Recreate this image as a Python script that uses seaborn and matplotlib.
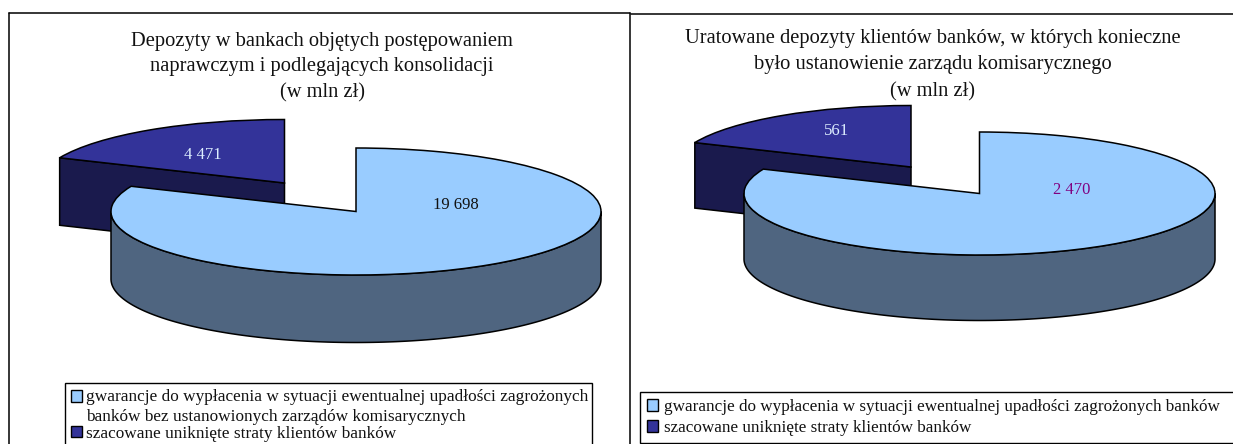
import numpy as np
import matplotlib
matplotlib.use("Agg")
import matplotlib.pyplot as plt
from matplotlib.lines import Line2D
from matplotlib.patches import Patch
import seaborn as sns

# ---- data ----
categories_left = ["gwarancje do wypłacenia w sytuacji ewentualnej upadłości zagrożonych\nbanków bez ustanowionych zarządów komisarycznych",
                   "szacowane uniknięte straty klientów banków"]
categories_right = ["gwarancje do wypłacenia w sytuacji ewentualnej upadłości zagrożonych banków",
                    "szacowane uniknięte straty klientów banków"]
values_left = [19698, 4471]
values_right = [2470, 561]
labels_left = ["19 698", "4 471"]
labels_right = ["2 470", "561"]
title_left = "Depozyty w bankach objętych postępowaniem\nnaprawczym i podlegających konsolidacji\n(w mln zł)"
title_right = "Uratowane depozyty klientów banków, w których konieczne\nbyło ustanowienie zarządu komisarycznego\n(w mln zł)"

sns.set_theme(style="white")
plt.rcParams["font.family"] = ["Liberation Serif", "DejaVu Serif"]

W, H = 1233, 444
TOP = sns.color_palette(["#99CCFF", "#333399"])
SIDE = sns.color_palette(["#4F6580", "#1A1A4D"])
fig = plt.figure(figsize=(W / 100, H / 100), dpi=100, facecolor="white")


def fx(x):
    return x / W


def fy(y):
    return 1 - y / H


def panel(values, cx, cy, rx, ry, thick, dark_c):
    ax = fig.add_axes([0, 0, 1, 1], facecolor="none")
    t = thick / ry
    dc = ((dark_c[0] - cx) / rx, (cy - dark_c[1]) / ry)
    share = values[1] / sum(values)
    end = np.deg2rad(90 + 360 * share)
    ex, ey = np.cos(end), np.sin(end)
    # cut face of the pulled-out slice
    ax.fill([dc[0], dc[0] + ex, dc[0] + ex, dc[0]],
            [dc[1], dc[1] + ey, dc[1] + ey - t, dc[1] - t],
            facecolor=SIDE[1], edgecolor="black", lw=1.1, zorder=1)
    w, _ = ax.pie(values, colors=TOP, startangle=90, counterclock=False, center=dc, radius=1,
                  wedgeprops=dict(edgecolor="black", linewidth=1.1, clip_on=False))
    w[0].set_visible(False)
    w[1].set_zorder(2)
    # rim of the large slice
    th = np.linspace(np.pi, 2 * np.pi, 200)
    xs, ys = np.cos(th), np.sin(th)
    ax.fill(np.r_[xs, xs[::-1]], np.r_[ys, ys[::-1] - t],
            facecolor=SIDE[0], edgecolor="black", lw=1.1, zorder=3)
    w, _ = ax.pie(values, colors=TOP, startangle=90, counterclock=False, center=(0, 0), radius=1,
                  wedgeprops=dict(edgecolor="black", linewidth=1.1, clip_on=False))
    w[1].set_visible(False)
    w[0].set_zorder(4)
    ax.set_aspect("auto")
    ax.set_xlim(-cx / rx, (W - cx) / rx)
    ax.set_ylim((cy - H) / ry, cy / ry)
    ax.set_axis_off()
    return ax


panel(values_left, 356, 211.5, 245, 63.5, 67.5, (284.5, 183))
panel(values_right, 979.5, 193.5, 235.5, 61.5, 65.5, (911, 167))

# data labels
for (x, y), s, c in zip([(456, 205), (203, 155), (1071.5, 190), (836.5, 131)],
                        labels_left + labels_right,
                        ["#111111", "#DDEEFF", "#800080", "#DDEEFF"]):
    fig.text(fx(x), fy(y), s, ha="center", va="center", fontsize=12, color=c)

# titles
for x, ys, s in [(322, (41, 67, 93), title_left), (933, (38, 65, 92), title_right)]:
    for y, line in zip(ys, s.split("\n")):
        fig.text(fx(x), fy(y), line, ha="center", va="center", fontsize=14.8, color="#111111")

# panel frames
for xs, ys in [((9, 9), (13, 444)), ((9, 630), (13, 13)), ((630.5, 630.5), (13, 444)),
               ((631, 1233), (14.5, 14.5))]:
    fig.add_artist(Line2D([fx(xs[0]), fx(xs[1])], [fy(ys[0]), fy(ys[1])], color="black", lw=1.1))


def legend(cats, x0, x1, y, borderpad, labelspacing, fs, textpad):
    handles = [Patch(facecolor=TOP[i], edgecolor="black", lw=1) for i in range(2)]
    leg = fig.legend(handles, cats, loc="upper left",
                     bbox_to_anchor=(fx(x0), fy(y) - 0.1, (x1 - x0) / W, 0.1), mode="expand",
                     borderaxespad=0, frameon=True, fancybox=False, edgecolor="black", framealpha=1,
                     fontsize=fs, handlelength=0.66, handleheight=0.66, handletextpad=textpad,
                     borderpad=borderpad, labelspacing=labelspacing, labelcolor="#111111")
    leg.get_frame().set_linewidth(1)
    return leg


lg = legend(categories_left, 65, 592, 383, 0.32, 0.02, 12.4, 0.25)
lg.get_texts()[0].set_linespacing(1.4)
lg.legend_handles[0].set_y(lg.legend_handles[0].get_y() + 8)
legend(categories_right, 640, 1240, 392, 0.4, 0.3, 12.36, 0.34)

fig.savefig("out.png", dpi=100)
